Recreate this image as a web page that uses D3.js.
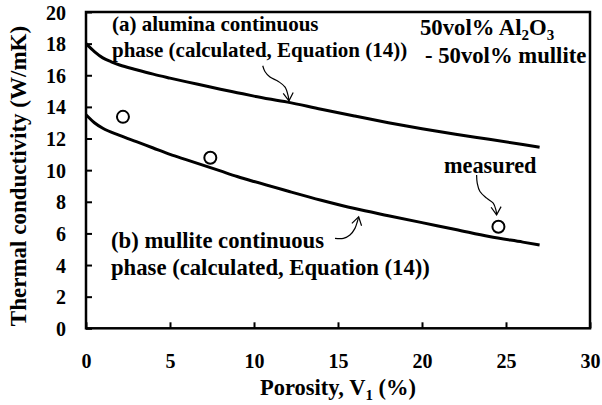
<!DOCTYPE html>
<html>
<head>
<meta charset="utf-8">
<script src="https://cdn.jsdelivr.net/npm/d3@7"></script>
<style>
  html, body { margin: 0; padding: 0; background: #fff; }
  svg { display: block; }
  text { font-family: "Liberation Serif", "Times New Roman", serif; font-weight: bold; fill: #000; }
</style>
</head>
<body>
<svg id="chart" width="602" height="405"></svg>
<script>
// Porosity (%) and thermal conductivity (W/mK)
// (a) alumina continuous phase, Equation (14)
const porosityA = [0, 0.5, 1, 1.5, 2, 3, 4, 5, 6, 7, 8, 9, 10, 12, 14, 16, 18, 20, 22, 24, 26, 27];
const condA     = [18.0, 17.5, 17.1, 16.85, 16.65, 16.35, 16.07, 15.82, 15.58, 15.35, 15.12, 14.9, 14.68, 14.3, 13.85, 13.42, 13.0, 12.62, 12.27, 11.95, 11.62, 11.45];
// (b) mullite continuous phase, Equation (14)
const porosityB = [0, 0.5, 1, 2, 3, 4, 5, 6, 7, 8, 9, 10, 12, 14, 16, 18, 20, 22, 24, 26, 27];
const condB     = [13.5, 13.0, 12.65, 12.2, 11.8, 11.4, 11.0, 10.65, 10.3, 9.95, 9.6, 9.28, 8.68, 8.1, 7.57, 7.12, 6.68, 6.25, 5.8, 5.45, 5.27];
// measured samples
const measuredPorosity = [2.2, 7.4, 24.55];
const measuredCond     = [13.37, 10.78, 6.42];

const xTicks = [0, 5, 10, 15, 20, 25, 30];
const yTicks = [0, 2, 4, 6, 8, 10, 12, 14, 16, 18, 20];

const svg = d3.select("#chart");
const plotLeft = 86, plotRight = 590, plotTop = 12, plotBottom = 328.3;

const x = d3.scaleLinear().domain([0, 30]).range([plotLeft, plotRight]);
const y = d3.scaleLinear().domain([0, 20]).range([plotBottom, plotTop]);

// arrowhead for the leader lines
svg.append("defs").append("marker")
  .attr("id", "head")
  .attr("viewBox", "-10 -6 12 12")
  .attr("refX", 0).attr("refY", 0)
  .attr("markerWidth", 12).attr("markerHeight", 12)
  .attr("markerUnits", "userSpaceOnUse")
  .attr("orient", "auto")
  .append("path")
  .attr("d", "M-8,-5 L0,0 L-8,5")
  .attr("fill", "none").attr("stroke", "#000").attr("stroke-width", 1.2);

// axes with inward ticks
const xAxis = svg.append("g").attr("transform", `translate(0,${plotBottom})`)
  .call(d3.axisBottom(x).tickValues(xTicks).tickSize(-6).tickPadding(0).tickFormat(d3.format("d")));
const yAxis = svg.append("g").attr("transform", `translate(${plotLeft},0)`)
  .call(d3.axisLeft(y).tickValues(yTicks).tickSize(-6).tickPadding(0).tickFormat(d3.format("d")));

[xAxis, yAxis].forEach(g => {
  g.attr("font-family", null).attr("font-size", null);
  g.select(".domain").remove();
  g.selectAll(".tick line").attr("stroke", "#000").attr("stroke-width", 2);
  g.selectAll(".tick text").attr("font-size", 20).attr("fill", "#000");
});
xAxis.selectAll(".tick text").attr("y", 40).attr("dy", 0);
yAxis.selectAll(".tick text").attr("x", -20).attr("dy", "0.35em");

// frame
svg.append("rect")
  .attr("x", plotLeft).attr("y", plotTop)
  .attr("width", plotRight - plotLeft).attr("height", plotBottom - plotTop)
  .attr("fill", "none").attr("stroke", "#000").attr("stroke-width", 2.5);

// calculated curves
const line = d3.line().x(d => x(d[0])).y(d => y(d[1])).curve(d3.curveMonotoneX);
[[porosityA, condA], [porosityB, condB]].forEach(([px, py]) => {
  svg.append("path")
    .datum(px.map((v, i) => [v, py[i]]))
    .attr("d", line)
    .attr("fill", "none").attr("stroke", "#000").attr("stroke-width", 3);
});

// measured points
svg.selectAll("circle.meas")
  .data(measuredPorosity.map((v, i) => [v, measuredCond[i]]))
  .join("circle")
  .attr("class", "meas")
  .attr("cx", d => x(d[0])).attr("cy", d => y(d[1]))
  .attr("r", 6)
  .attr("fill", "#fff").attr("stroke", "#000").attr("stroke-width", 2);

// leader lines (in data units)
const leaders = [
  [[10.52, 16.6], [10.65, 16.24], [10.95, 15.89], [11.45, 15.61], [11.85, 15.25], [12.04, 14.66], [12.08, 14.38]],
  [[14.82, 5.69], [15.32, 5.69], [15.71, 5.9], [16.01, 6.32], [16.15, 6.74], [16.23, 7.05]],
  [[23.25, 9.70], [23.29, 9.17], [23.45, 8.65], [23.85, 8.23], [24.24, 7.91], [24.40, 7.49], [24.44, 7.17]]
];
const leaderLine = d3.line().x(d => x(d[0])).y(d => y(d[1])).curve(d3.curveCatmullRom);
leaders.forEach(pts => {
  svg.append("path").attr("d", leaderLine(pts))
    .attr("fill", "none").attr("stroke", "#000").attr("stroke-width", 1.2)
    .attr("marker-end", "url(#head)");
});

// annotation text
function label(xp, yp, size, str) {
  return svg.append("text").attr("x", xp).attr("y", yp).attr("font-size", size).text(str);
}
label(112, 31, 21, "(a) alumina continuous");
label(112, 57, 21, "phase (calculated, Equation (14))");
label(111, 248, 22.7, "(b) mullite continuous");
label(111, 275, 22.7, "phase (calculated, Equation (14))");
label(444, 173, 22.3, "measured");

const t1 = svg.append("text").attr("x", 420).attr("y", 35).attr("font-size", 22.7);
t1.append("tspan").text("50vol% Al");
t1.append("tspan").attr("font-size", 15).attr("dy", 5).text("2");
t1.append("tspan").attr("dy", -5).text("O");
t1.append("tspan").attr("font-size", 15).attr("dy", 5).text("3");
label(425, 63, 22.7, "- 50vol% mullite");

// axis titles
const xt = svg.append("text").attr("x", 338).attr("y", 395).attr("text-anchor", "middle").attr("font-size", 22.5);
xt.append("tspan").text("Porosity, V");
xt.append("tspan").attr("font-size", 15).attr("dy", 5).text("1");
xt.append("tspan").attr("dy", -5).text(" (%)");

svg.append("text")
  .attr("transform", "translate(26,176) rotate(-90)")
  .attr("text-anchor", "middle").attr("font-size", 23)
  .text("Thermal conductivity (W/mK)");
</script>
</body>
</html>
